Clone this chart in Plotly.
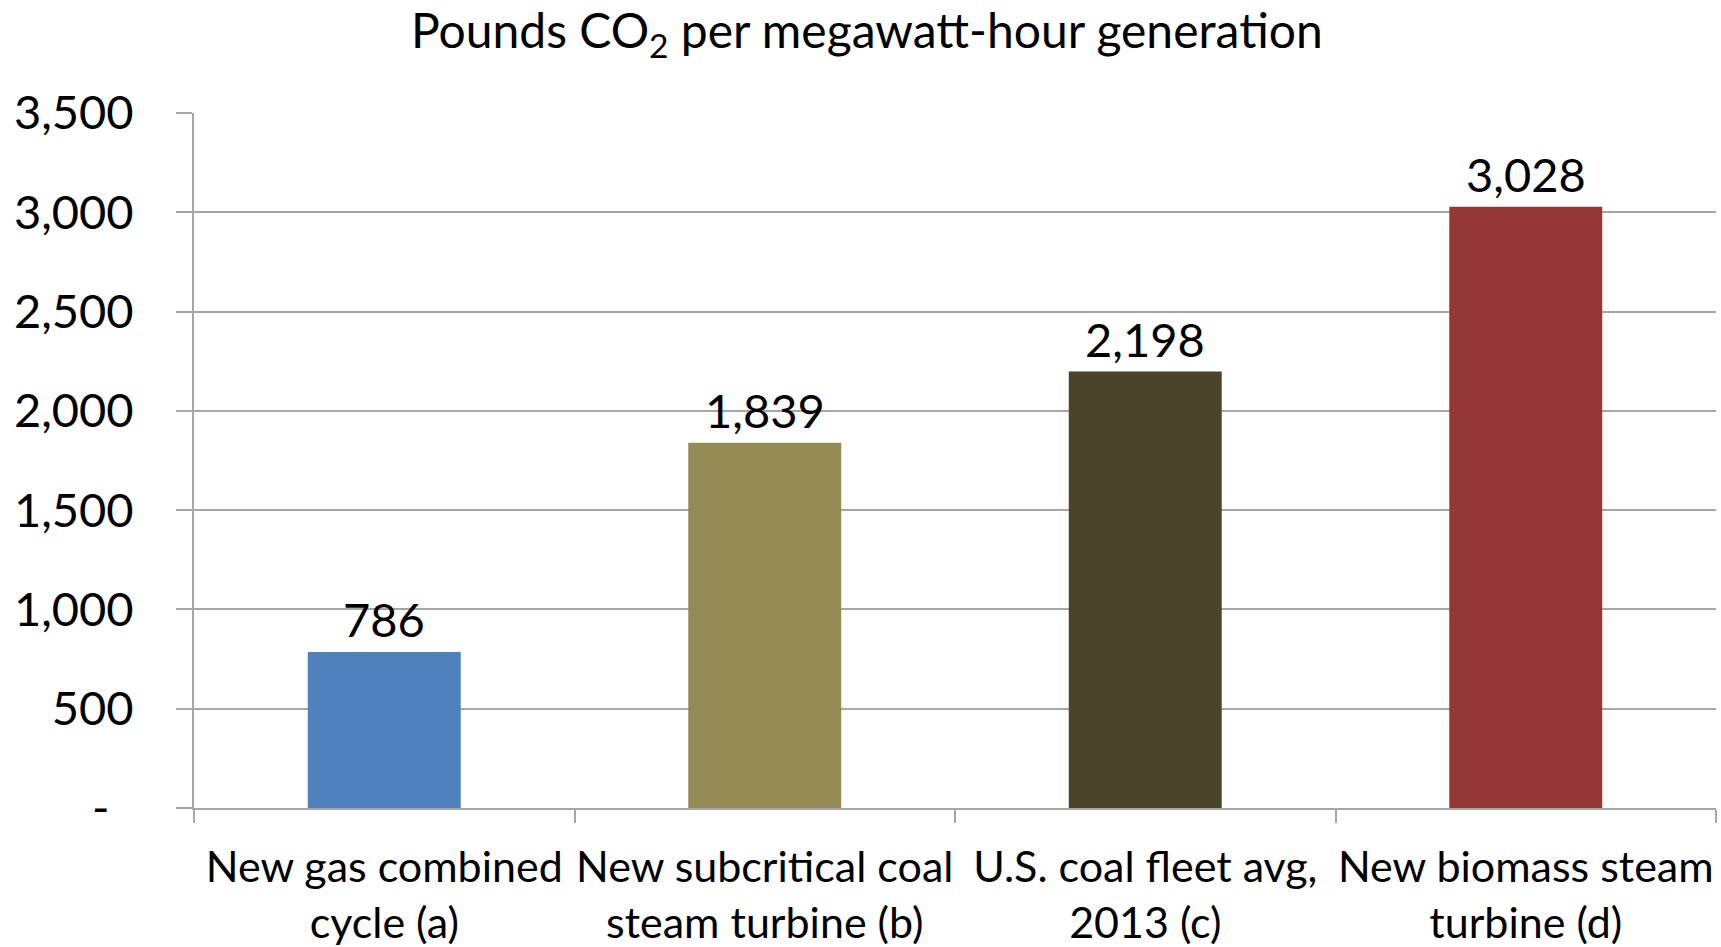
import plotly.graph_objects as go

categories = [
    "New gas combined<br>cycle (a)",
    "New subcritical coal<br>steam turbine (b)",
    "U.S. coal fleet avg,<br>2013 (c)",
    "New biomass steam<br>turbine (d)",
]
values = [786, 1839, 2198, 3028]
bar_colors = ["#4F81BD", "#948A54", "#4A452A", "#953735"]
y_tick_vals = [0, 500, 1000, 1500, 2000, 2500, 3000, 3500]
y_tick_text = ["-\u00a0\u00a0", "500", "1,000", "1,500", "2,000", "2,500", "3,000", "3,500"]
title_text = "Pounds CO<sub>2</sub> per megawatt-hour generation"

FONT = "Lato"
GRID = "#A6A6A6"

fig = go.Figure()
fig.add_trace(go.Bar(
    x=categories,
    y=values,
    marker=dict(color=bar_colors, line=dict(width=0)),
    hoverinfo="x+y",
))

for c, v in zip(categories, values):
    fig.add_annotation(
        x=c, y=v, text=f"{v:,}", showarrow=False,
        yanchor="middle", yshift=33,
        font=dict(family=FONT, size=47, color="#000000"),
    )

fig.add_annotation(
    x=0.5, y=1.0, xref="paper", yref="paper", xanchor="center", yanchor="bottom",
    text=title_text, showarrow=False, yshift=46, xshift=-88,
    font=dict(family=FONT, size=48, color="#000000"),
)

fig.update_layout(
    width=1721, height=947,
    margin=dict(l=194, r=5, t=113, b=139),
    paper_bgcolor="white", plot_bgcolor="white",
    bargap=0.598,
    showlegend=False,
    font=dict(family=FONT, color="#000000"),
)
fig.update_xaxes(
    showline=True, linecolor=GRID, linewidth=2,
    ticks="outside", tickson="boundaries", ticklen=13, tickcolor=GRID, tickwidth=2,
    ticklabelstandoff=20, tickangle=0, automargin=False,
    tickfont=dict(family=FONT, size=43, color="#000000"),
    showgrid=False,
)
fig.update_yaxes(
    range=[0, 3500],
    tickvals=y_tick_vals, ticktext=y_tick_text,
    showgrid=True, gridcolor=GRID, gridwidth=2,
    showline=True, linecolor=GRID, linewidth=2,
    ticks="outside", ticklen=16, tickcolor=GRID, tickwidth=2,
    ticklabelstandoff=33, automargin=False,
    tickfont=dict(family=FONT, size=47, color="#000000"),
    zeroline=False,
)

fig.write_html(
    "out.html",
    config={"displayModeBar": False},
    post_script="document.body.style.margin='0';document.body.style.overflow='hidden';",
)
